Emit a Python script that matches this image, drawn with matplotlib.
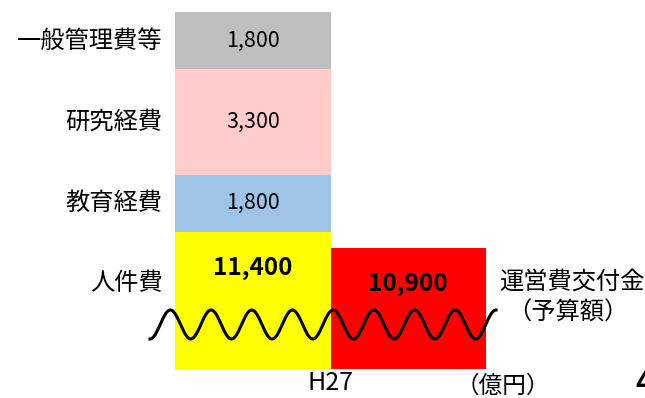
import numpy as np
import matplotlib.pyplot as plt

plt.rcParams["font.family"] = ["Noto Sans CJK JP", "DejaVu Sans"]

# expense breakdown (億円), stacked bottom -> top
cost_labels = ["人件費", "教育経費", "研究経費", "一般管理費等"]
cost_values = [11400, 1800, 3300, 1800]
cost_colors = ["#FFFF00", "#9DC3E6", "#FFCCCC", "#BFBFBF"]

grant_label = "運営費交付金"
grant_note = "（予算額）"
grant_value = 10900
year_label = "H27"

y_break = 7100  # axis is cut below this (wavy line)

fig = plt.figure(figsize=(6.45, 3.98), dpi=100)
W, H = 645, 398
ax = fig.add_axes([175 / W, 29 / H, 311 / W, 357 / H])

bottom = 0
tops = []
for lab, val, col in zip(cost_labels, cost_values, cost_colors):
    ax.bar(0, val, bottom=bottom, width=1, align="edge", color=col, linewidth=0)
    tops.append((bottom, bottom + val))
    bottom += val
ax.bar(1, grant_value, width=1, align="edge", color="#FF0000", linewidth=0)

ax.set_xlim(0, 2)
ax.set_ylim(y_break, sum(cost_values))
for s in ax.spines.values():
    s.set_visible(False)
ax.set_yticks([])
ax.set_xticks([1])
ax.set_xticklabels([year_label], fontsize=18)
ax.tick_params(axis="x", length=0, pad=1)

# segment values and left labels
for i, (lab, val) in enumerate(zip(cost_labels, cost_values)):
    lo, hi = tops[i]
    if i == 0:
        ax.text(0.5, hi - 1130, f"{val:,}", ha="center", va="center",
                fontsize=17.5, fontweight="bold")
        ax.text(-0.08, hi - 1600, lab, ha="right", va="center", fontsize=17.5)
    else:
        mid = (lo + hi) / 2
        ax.text(0.5, mid, f"{val:,}", ha="center", va="center", fontsize=15.5)
        ax.text(-0.08, mid, lab, ha="right", va="center", fontsize=17.5)

ax.text(1.5, grant_value - 1130, f"{grant_value:,}", ha="center", va="center",
        fontsize=17.5, fontweight="bold")

fig.text(572 / W, 1 - 282 / H, grant_label, ha="center", va="center",
         fontsize=17.5)
fig.text(568 / W, 1 - 313 / H, grant_note, ha="center", va="center",
         fontsize=17.5)
fig.text(503 / W, 1 - 386 / H, "（億円）", ha="center", va="center", fontsize=17)
fig.text(635 / W, 1 - 384 / H, "4", ha="left", va="center", fontsize=20,
         fontweight="bold")

# break marker
xs = np.linspace(150, 496, 600)
period = 40.7
ys = 324.5 + 14.5 * np.cos(2 * np.pi * (xs - 150) / period)
fig.add_artist(plt.Line2D(xs / W, 1 - ys / H, color="black", lw=2.2,
                          transform=fig.transFigure))

fig.savefig("out.png", dpi=100)
